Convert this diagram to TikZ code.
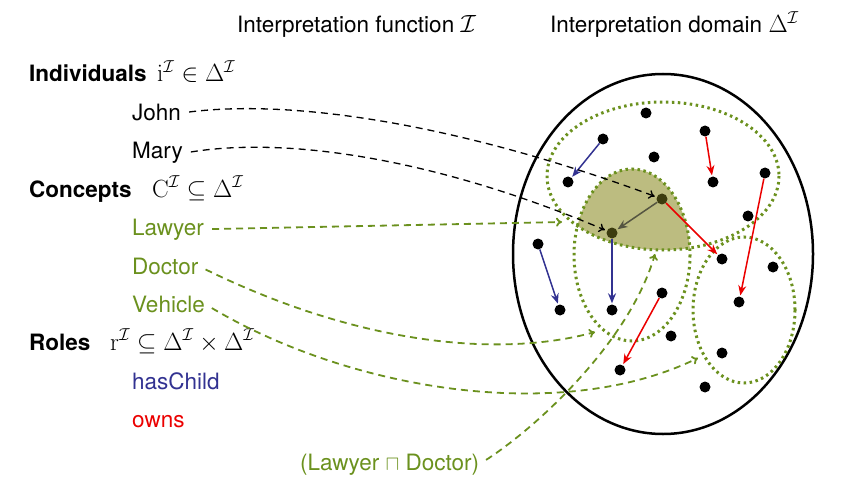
\documentclass[tikz,border=0pt]{standalone}
\usepackage[no-math]{fontspec}
\setmainfont{TeX Gyre Heros}
\usetikzlibrary{arrows.meta}
\definecolor{lgreen}{RGB}{107,145,30}
\definecolor{rblue}{RGB}{50,50,145}
\definecolor{rred}{RGB}{235,0,0}
\definecolor{shadefill}{RGB}{188,188,128}
\definecolor{darkdot}{RGB}{60,60,15}
\definecolor{grayarr}{RGB}{85,85,65}
\begin{document}
\begin{tikzpicture}[x=1pt,y=-1pt,
  font=\fontsize{22.5}{27}\selectfont,
  lbl/.style={anchor=base west, inner sep=0pt},
  mlbl/.style={lbl, font=\fontsize{25}{30}\selectfont},
  dot/.style={circle, fill=black, inner sep=0pt, minimum size=11pt},
  ddot/.style={dot, fill=darkdot},
  map/.style={dash pattern=on 7pt off 5pt, line width=1.3pt, -{To[length=6pt,width=9pt]}, shorten <=8pt},
  gmap/.style={map, lgreen, line width=1.8pt},
  role/.style={line width=1.5pt, -{Stealth[length=10pt,width=8pt]}, shorten >=1pt},
  cset/.style={lgreen, line width=3pt, dash pattern=on 2.5pt off 3.5pt},
]
\useasboundingbox (0,0) rectangle (850,486);

% titles
\node[lbl] (tfun) at (237,33) {Interpretation function {\fontsize{25}{30}\selectfont$\mathcal{I}$}};
\node[lbl] (tdom) at (550,33) {Interpretation domain {\fontsize{25}{30}\selectfont$\Delta^{\mathcal{I}}$}};

% left column
\node[lbl] (ind) at (29,82) {\bfseries Individuals};
\node[mlbl] (indm) at (157,82) {$\mathrm{i}^{\mathcal{I}}\in\Delta^{\mathcal{I}}$};
\node[lbl] (john) at (132,121) {John};
\node[lbl] (mary) at (132,159) {Mary};
\node[lbl] (con) at (29,197) {\bfseries Concepts};
\node[mlbl] (conm) at (152,197) {$\mathrm{C}^{\mathcal{I}}\subseteq\Delta^{\mathcal{I}}$};
\node[lbl, text=lgreen] (law) at (132,235) {Lawyer};
\node[lbl, text=lgreen] (doc) at (132,274) {Doctor};
\node[lbl, text=lgreen] (veh) at (132,312) {Vehicle};
\node[lbl] (rol) at (29,350) {\bfseries Roles};
\node[mlbl] (rolm) at (110,350) {$\mathrm{r}^{\mathcal{I}}\subseteq\Delta^{\mathcal{I}}\times\Delta^{\mathcal{I}}$};
\node[lbl, text=rblue] (hc) at (132,389) {hasChild};
\node[lbl, text=rred] (own) at (132,427) {owns};
\node[lbl, text=lgreen] (ld) at (300,470) {(Lawyer $\sqcap$ Doctor)};

% domain
\begin{scope}
  \clip (632,255) ellipse [x radius=58, y radius=86];
  \fill[shadefill] (663,176) ellipse [x radius=116, y radius=74];
\end{scope}
\draw[line width=2.5pt] (663,254) ellipse [x radius=150, y radius=180];
\draw[cset] (663,176) ellipse [x radius=116, y radius=74];
\draw[cset] (632,255) ellipse [x radius=58, y radius=86];
\draw[cset] (744,310) ellipse [x radius=51, y radius=73];

% individuals
\node[dot] (d1) at (646,113) {};
\node[dot] (d2) at (603,139) {};
\node[dot] (d3) at (705,131) {};
\node[dot] (d4) at (654,157) {};
\node[dot] (d5) at (568,182) {};
\node[dot] (d6) at (713,182) {};
\node[dot] (d7) at (765,173) {};
\node[ddot] (d8) at (662,199) {};
\node[ddot] (d9) at (612,233) {};
\node[dot] (d10) at (748,216) {};
\node[dot] (d11) at (538,244) {};
\node[dot] (d12) at (722,259) {};
\node[dot] (d13) at (773,267) {};
\node[dot] (d14) at (560,310) {};
\node[dot] (d15) at (612,310) {};
\node[dot] (d16) at (662,293) {};
\node[dot] (d17) at (739,302) {};
\node[dot] (d18) at (671,336) {};
\node[dot] (d19) at (722,353) {};
\node[dot] (d20) at (620,370) {};
\node[dot] (d21) at (705,387) {};

% roles
\draw[role, rblue] (d2) -- (d5);
\draw[role, rred] (d3) -- (d6);
\draw[role, rred] (d7) -- (d17);
\draw[role, grayarr] (d8) -- (d9);
\draw[role, rred] (d8) -- (d12);
\draw[role, rblue] (d9) -- (d15);
\draw[role, rblue] (d11) -- (d14);
\draw[role, rred] (d16) -- (d20);

% targets of concept mappings
\coordinate (tlaw) at (562,222);
\coordinate (tdoc) at (595,332);
\coordinate (tveh) at (698,358);
\coordinate (tld) at (655,254);

% mappings
\draw[map, shorten >=2pt] (john.east) .. controls (300,98) and (470,128) .. (d8);
\draw[map, shorten >=2pt] (mary.east) .. controls (290,136) and (440,160) .. (d9);
\draw[gmap] (law.east) -- (tlaw);
\draw[gmap] (doc.east) .. controls (360,345) and (500,358) .. (tdoc);
\draw[gmap] (veh.east) .. controls (350,390) and (560,425) .. (tveh);
\draw[gmap] (ld.east) .. controls (540,425) and (630,340) .. (tld);
\end{tikzpicture}
\end{document}
